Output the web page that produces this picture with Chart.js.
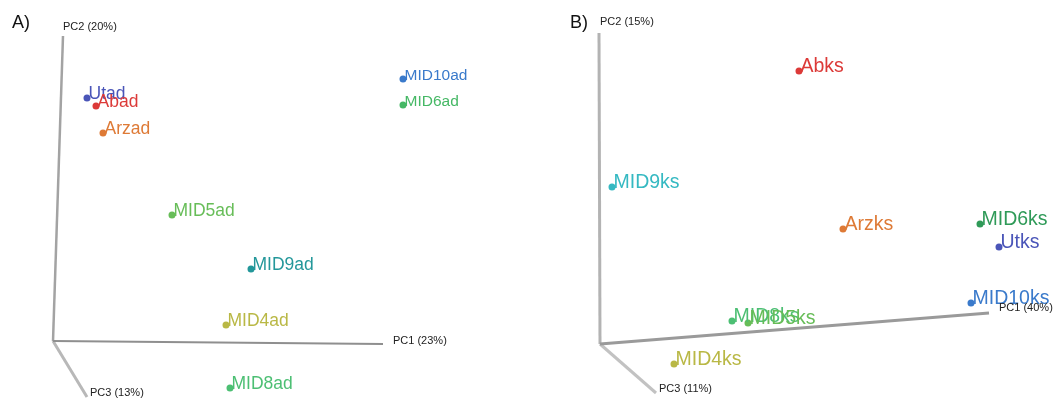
<!DOCTYPE html>
<html>
<head>
<meta charset="utf-8">
<script src="https://cdn.jsdelivr.net/npm/chart.js@4"></script>
<style>
  html, body { margin: 0; padding: 0; background: #fff; width: 1054px; height: 398px; overflow: hidden; }
  .panel { position: absolute; top: 0; width: 527px; height: 398px; }
</style>
</head>
<body>
<div class="panel" style="left:0"><canvas id="panelA" width="527" height="398"></canvas></div>
<div class="panel" style="left:527px"><canvas id="panelB" width="527" height="398"></canvas></div>
<script>
// ---- Panel A: "ad" samples, projected onto the viewing plane (origin = PC axes origin)
const samplesA = ['Utad', 'Abad', 'Arzad', 'MID10ad', 'MID6ad', 'MID5ad', 'MID9ad', 'MID4ad', 'MID8ad'];
const viewXA   = [3.4, 4.3, 5.0, 35.0, 35.0, 11.9, 19.8, 17.3, 17.7];
const viewYA   = [24.3, 23.5, 20.8, 26.2, 23.6, 12.6, 7.2, 1.6, -4.7];
const axisTitlesA = ['PC1 (23%)', 'PC2 (20%)', 'PC3 (13%)'];
const axisTipXA   = [33.0, 1.0, 3.4];
const axisTipYA   = [-0.3, 30.5, -5.6];

// ---- Panel B: "ks" samples
const samplesB = ['Abks', 'MID9ks', 'Arzks', 'MID6ks', 'Utks', 'MID10ks', 'MID8ks', 'MID5ks', 'MID4ks'];
const viewXB   = [19.9, 1.2, 24.3, 38.0, 39.9, 37.1, 13.2, 14.8, 7.4];
const viewYB   = [27.3, 15.7, 11.5, 12.0, 9.7, 4.1, 2.3, 2.1, -2.0];
const axisTitlesB = ['PC1 (40%)', 'PC2 (15%)', 'PC3 (11%)'];
const axisTipXB   = [38.9, -0.1, 5.6];
const axisTipYB   = [3.1, 31.1, -4.9];

// colour per sample group
const groupColor = {
  Ut: '#4a55b8', Ab: '#dc3a38', Arz: '#de7a36', MID10: '#3a7acb', MID6: '#45b865',
  MID6ks: '#2f9a58', MID5: '#67bd58', MID9: '#23979a', MID9ks: '#35b9c2',
  MID4: '#b9b845', MID8: '#4cbf73'
};
function colorFor(name) {
  if (name === 'MID6ks') return groupColor.MID6ks;
  if (name === 'MID9ks') return groupColor.MID9ks;
  if (name.startsWith('Arz')) return groupColor.Arz;
  return groupColor[name.replace(/(ad|ks)$/, '')];
}

const FONT = '"Liberation Sans", Arial, Helvetica, sans-serif';

const panelDecor = {
  id: 'panelDecor',
  afterDatasetsDraw(chart, args, o) {
    const { ctx, scales: { x, y } } = chart;
    ctx.save();
    // sample names next to their points
    ctx.textAlign = 'left';
    ctx.textBaseline = 'alphabetic';
    o.names.forEach((n, i) => {
      const px = x.getPixelForValue(o.xs[i]);
      const py = y.getPixelForValue(o.ys[i]);
      ctx.font = o.labelSize(n) + 'px ' + FONT;
      ctx.fillStyle = colorFor(n);
      ctx.fillText(n, px + 1.5, py + 0.5);
    });
    // axis titles at the tips of the axes
    ctx.font = '11px ' + FONT;
    ctx.fillStyle = '#222';
    ctx.textBaseline = 'middle';
    o.axisTitles.forEach((t, i) => {
      const px = x.getPixelForValue(o.tipX[i]) + o.titleDx[i];
      const py = y.getPixelForValue(o.tipY[i]) + o.titleDy[i];
      ctx.fillText(t, px, py);
    });
    // panel letter
    ctx.font = '18px ' + FONT;
    ctx.fillStyle = '#111';
    ctx.fillText(o.letter, o.letterX, 23);
    ctx.restore();
  }
};

function axisDataset(tx, ty, color, width) {
  return {
    data: [{ x: 0, y: 0 }, { x: tx, y: ty }],
    showLine: true, pointRadius: 0, borderColor: color, borderWidth: width,
    borderCapStyle: 'butt', fill: false
  };
}

function makePanel(id, names, xs, ys, titles, tipX, tipY, range, deco) {
  const pts = names.map((n, i) => ({ x: xs[i], y: ys[i] }));
  return new Chart(document.getElementById(id), {
    type: 'scatter',
    data: {
      datasets: [
        {
          data: pts,
          pointRadius: 3.5,
          pointBorderWidth: 0,
          pointBackgroundColor: names.map(colorFor)
        },
        axisDataset(tipX[0], tipY[0], deco.axisColors[0], deco.axisWidths[0]),
        axisDataset(tipX[1], tipY[1], deco.axisColors[1], deco.axisWidths[1]),
        axisDataset(tipX[2], tipY[2], deco.axisColors[2], deco.axisWidths[2])
      ]
    },
    options: {
      responsive: false,
      animation: false,
      devicePixelRatio: 1,
      layout: { padding: 0, autoPadding: false },
      scales: {
        x: { type: 'linear', min: range[0], max: range[1], display: false },
        y: { type: 'linear', min: range[2], max: range[3], display: false }
      },
      plugins: {
        legend: { display: false },
        tooltip: { enabled: false },
        panelDecor: {
          names, xs, ys, axisTitles: titles, tipX, tipY,
          labelSize: deco.labelSize, titleDx: deco.titleDx, titleDy: deco.titleDy,
          letter: deco.letter, letterX: deco.letterX
        }
      }
    },
    plugins: [panelDecor]
  });
}

// labels of far-away samples (back of the 3D box) are rendered a little smaller
makePanel('panelA', samplesA, viewXA, viewYA, axisTitlesA, axisTipXA, axisTipYA,
  [-5.3, 47.4, -5.7, 34.1],
  { labelSize: n => (n === 'MID10ad' || n === 'MID6ad') ? 15.5 : 17.5,
    titleDx: [10, 0, 3], titleDy: [-3, -9, -4], letter: 'A)', letterX: 12,
    axisColors: ['#8f8f8f', '#a3a3a3', '#b8b8b8'], axisWidths: [2, 2.5, 3] });

makePanel('panelB', samplesB, viewXB, viewYB, axisTitlesB, axisTipXB, axisTipYB,
  [-7.3, 45.4, -5.4, 34.4],
  { labelSize: n => 19.5,
    titleDx: [10, 1, 3], titleDy: [-5, -11, -4], letter: 'B)', letterX: 43,
    axisColors: ['#9a9a9a', '#b3b3b3', '#c2c2c2'], axisWidths: [3, 3, 3] });
</script>
</body>
</html>
